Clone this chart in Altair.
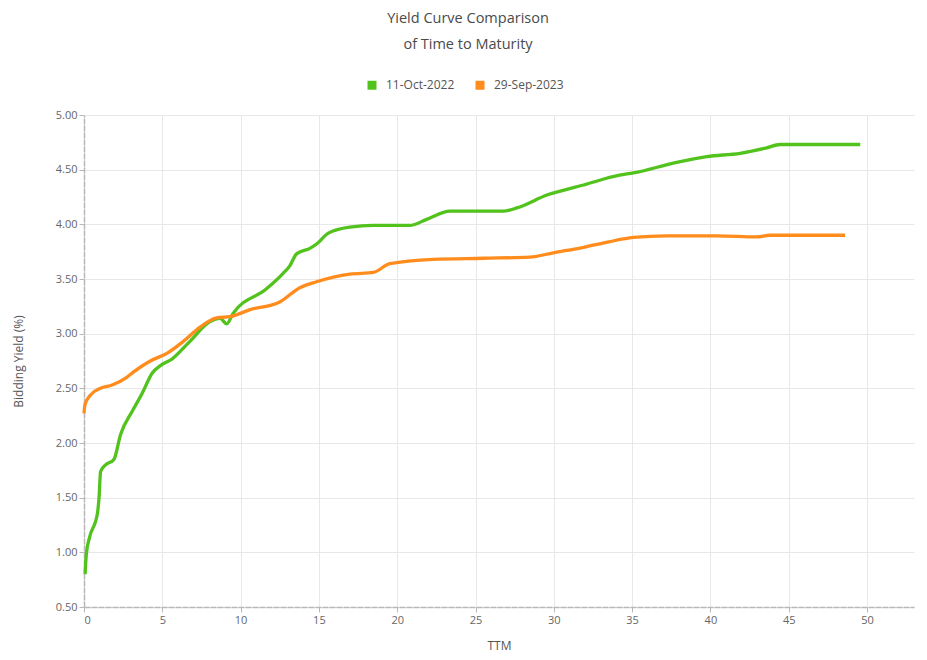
import altair as alt
import pandas as pd

series_names = ["11-Oct-2022", "29-Sep-2023"]

ttm_2022 = [0.07, 0.15, 0.36, 0.85, 0.96, 1.06, 1.38, 1.91, 2.34, 3.08, 3.7, 4.36, 4.9, 5.64,
            6.7, 8.05, 8.69, 9.11, 9.52, 11.65, 12.7, 13.14, 13.57, 14.42, 14.85, 15.6, 16.98,
            18.47, 20.8, 21.88, 23.37, 26.77, 27.63, 29.6, 31.9, 34.2, 35.08, 37.64, 39.77,
            41.9, 43.6, 44.45, 49.57]
yld_2022 = [0.80, 0.985, 1.14, 1.35, 1.50, 1.74, 1.80, 1.85, 2.08, 2.29, 2.45, 2.64, 2.71, 2.77,
            2.92, 3.11, 3.14, 3.09, 3.185, 3.41, 3.55, 3.62, 3.73, 3.78, 3.82, 3.92, 3.975,
            3.99, 3.99, 4.045, 4.12, 4.12, 4.15, 4.27, 4.36, 4.45, 4.47, 4.56, 4.62,
            4.65, 4.70, 4.73, 4.73]

ttm_2023 = [0.0, 0.06, 0.42, 1.05, 1.8, 2.73, 3.17, 4.23, 5.29, 6.35, 7.41, 8.47, 9.32, 10.6,
            12.5, 13.78, 14.85, 16.98, 18.47, 19.53, 22.3, 25.5, 28.48, 29.97, 31.9, 33.5,
            35.08, 37.21, 40.4, 42.97, 43.8, 48.6]
yld_2023 = [2.27, 2.35, 2.44, 2.50, 2.53, 2.60, 2.65, 2.75, 2.82, 2.93, 3.06, 3.145, 3.155, 3.22,
            3.29, 3.42, 3.475, 3.545, 3.56, 3.64, 3.68, 3.69, 3.70, 3.74, 3.79, 3.84,
            3.88, 3.895, 3.895, 3.885, 3.90, 3.90]

colors = ["#52c21d", "#ff8c1c"]
x_ticks = [0, 5, 10, 15, 20, 25, 30, 35, 40, 45, 50]
y_ticks = [0.5, 1.0, 1.5, 2.0, 2.5, 3.0, 3.5, 4.0, 4.5, 5.0]

rows = []
for i, (t, v) in enumerate(zip(ttm_2022, yld_2022)):
    rows.append({"series": series_names[0], "TTM": t, "yield": v, "order": i})
for i, (t, v) in enumerate(zip(ttm_2023, yld_2023)):
    rows.append({"series": series_names[1], "TTM": t, "yield": v, "order": i})
df = pd.DataFrame(rows)

FONT = "Open Sans"

chart = alt.Chart(df).mark_line(strokeWidth=3.3, interpolate="monotone").encode(
    x=alt.X("TTM:Q", title="TTM",
            scale=alt.Scale(domain=[0, 53], nice=False, zero=False),
            axis=alt.Axis(values=x_ticks, grid=True, titlePadding=15)),
    y=alt.Y("yield:Q", title="Bidding Yield (%)",
            scale=alt.Scale(domain=[0.5, 5.0], nice=False, zero=False),
            axis=alt.Axis(values=y_ticks, format=".2f", grid=True, titlePadding=30)),
    color=alt.Color("series:N",
                    scale=alt.Scale(domain=series_names, range=colors),
                    legend=alt.Legend(title=None, orient="none", direction="horizontal",
                                      legendX=282, legendY=-36, symbolType="square",
                                      symbolSize=9, symbolStrokeWidth=6, labelOffset=8,
                                      labelFont=FONT, labelFontSize=12,
                                      labelColor="#555555", columnPadding=11)),
    order="order:Q",
).properties(
    width=830,
    height=492,
    title=alt.TitleParams(text=["Yield Curve Comparison", "of Time to Maturity"],
                          anchor="middle", font=FONT, fontSize=14.5, fontWeight="normal",
                          color="#4a4a4a", lineHeight=26, dx=-31, offset=27),
    autosize=alt.AutoSizeParams(type="none"),
    padding={"left": 76, "top": 107, "right": 5, "bottom": 45},
).configure_view(
    stroke=None
).configure_axis(
    labelFont=FONT, labelFontSize=11, labelColor="#666666",
    titleFont=FONT, titleFontSize=12, titleColor="#555555", titleFontWeight="normal",
    gridColor="#e8e8e8", gridWidth=1,
    domainColor="#b8b8b8", domainWidth=1.5, domainDash=[6, 1],
    tickColor="#b8b8b8", tickSize=5,
)

chart.save("out.html", embed_options={"renderer": "svg", "actions": False})
